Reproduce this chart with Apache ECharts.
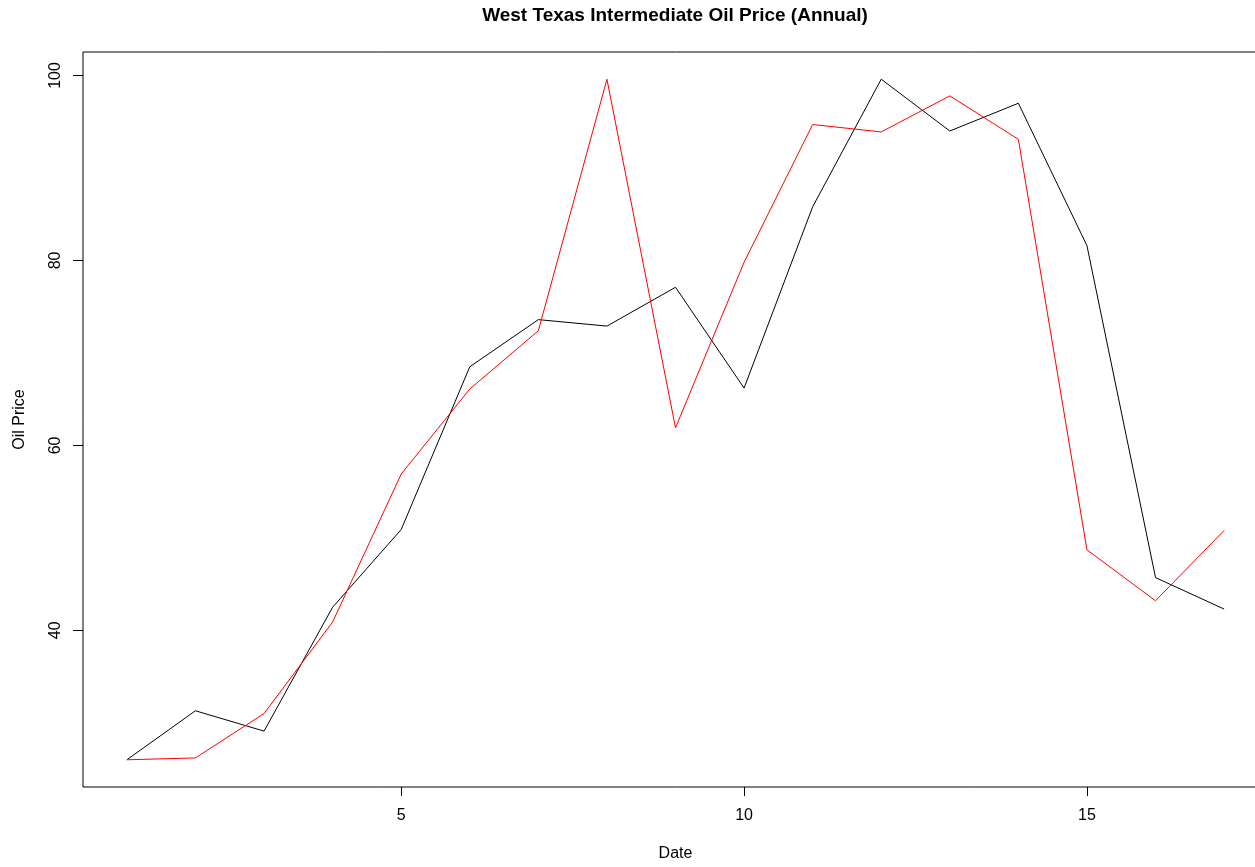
<!DOCTYPE html>
<html>
<head>
<meta charset="utf-8">
<script src="https://cdn.jsdelivr.net/npm/echarts@6/dist/echarts.min.js"></script>
<style>
html, body { margin: 0; padding: 0; overflow: hidden; background: #fff; }
#chart { width: 1350px; height: 867px; }
</style>
</head>
<body>
<div id="chart"></div>
<script>
// Data
const dates = [1, 2, 3, 4, 5, 6, 7, 8, 9, 10, 11, 12, 13, 14, 15, 16, 17];
const priceBlack = [26.0, 31.3, 29.1, 42.5, 50.9, 68.5, 73.6, 72.9, 77.1, 66.2, 85.8, 99.6, 94.0, 97.0, 81.6, 45.7, 42.3];
const priceRed = [26.0, 26.2, 31.0, 40.9, 56.9, 66.1, 72.4, 99.6, 61.9, 79.8, 94.7, 93.9, 97.8, 93.1, 48.7, 43.2, 50.8];
const xTicks = [5, 10, 15];
const yTicks = [40, 60, 80, 100];
const titleText = 'West Texas Intermediate Oil Price (Annual)';
const xName = 'Date';
const yName = 'Oil Price';

// R-style axis range: data range extended by 4% on each side
function rRange(vals) {
  const lo = Math.min.apply(null, vals), hi = Math.max.apply(null, vals);
  const d = (hi - lo) * 0.04;
  return [lo - d, hi + d];
}
const xr = rRange(dates);
const yr = rRange(priceBlack.concat(priceRed));

const FONT = '"Liberation Sans", Arial, sans-serif';

const chart = echarts.init(document.getElementById('chart'), null, { renderer: 'canvas' });
chart.setOption({
  animation: false,
  backgroundColor: '#ffffff',
  title: {
    text: titleText,
    left: 'center',
    top: 6,
    padding: 0,
    textStyle: { fontFamily: FONT, fontSize: 19, fontWeight: 'bold', color: '#000' }
  },
  grid: {
    left: 83, top: 52, width: 1185, height: 739,
    show: true, borderColor: '#000', borderWidth: 1, backgroundColor: 'transparent'
  },
  xAxis: {
    type: 'value',
    min: xr[0], max: xr[1],
    name: xName,
    nameLocation: 'middle',
    nameGap: 59,
    nameTextStyle: { fontFamily: FONT, fontSize: 16, color: '#000', verticalAlign: 'top' },
    axisLine: { show: false },
    splitLine: { show: false },
    axisTick: { show: true, customValues: xTicks, length: 9, lineStyle: { color: '#000', width: 1 } },
    axisLabel: { customValues: xTicks, margin: 21, fontFamily: FONT, fontSize: 16, color: '#000' }
  },
  yAxis: {
    type: 'value',
    min: yr[0], max: yr[1],
    name: yName,
    nameLocation: 'middle',
    nameGap: 55,
    nameRotate: 90,
    nameTextStyle: { fontFamily: FONT, fontSize: 16, color: '#000' },
    axisLine: { show: false },
    splitLine: { show: false },
    axisTick: { show: true, customValues: yTicks, length: 10, lineStyle: { color: '#000', width: 1 } },
    axisLabel: { customValues: yTicks, rotate: 90, margin: 19, fontFamily: FONT, fontSize: 16, color: '#000' }
  },
  series: [
    {
      name: 'WTI price',
      type: 'line',
      data: dates.map((d, i) => [d, priceBlack[i]]),
      showSymbol: false,
      lineStyle: { color: '#000000', width: 1 },
      itemStyle: { color: '#000000' }
    },
    {
      name: 'WTI price (red)',
      type: 'line',
      data: dates.map((d, i) => [d, priceRed[i]]),
      showSymbol: false,
      lineStyle: { color: '#ff0000', width: 1 },
      itemStyle: { color: '#ff0000' }
    }
  ]
});
</script>
</body>
</html>
